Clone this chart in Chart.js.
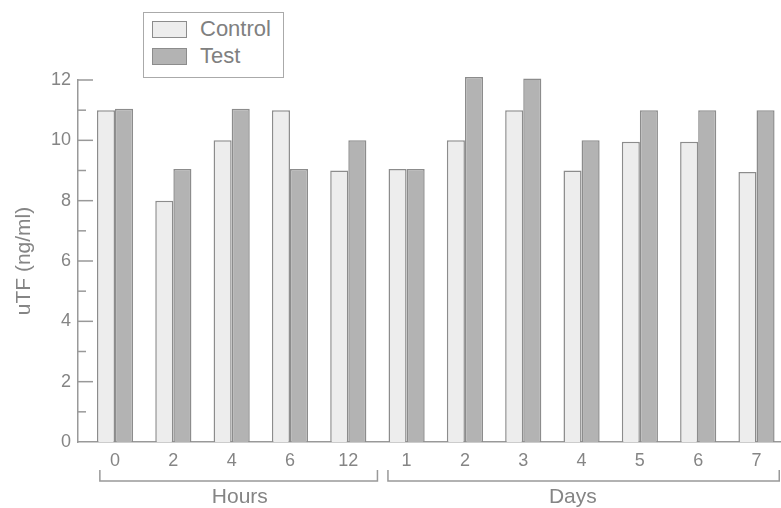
<!DOCTYPE html>
<html>
<head>
<meta charset="utf-8">
<script src="https://cdn.jsdelivr.net/npm/chart.js@4.4.1/dist/chart.umd.min.js"></script>
<style>
  body { margin: 0; background: #fff; }
  #wrap { position: relative; width: 781px; height: 508px; overflow: hidden; }
  #legend {
    position: absolute; left: 143px; top: 12px; width: 139px; height: 64px;
    border: 1px solid #aaa; background: #fff;
    font: 22px "Liberation Sans", Arial, sans-serif; color: #808080;
  }
  .item { position: absolute; left: 8px; height: 17px; }
  .sw { position: absolute; left: 0; top: 0; width: 33px; height: 15px; border: 1px solid #8c8c8c; }
  .lab { position: absolute; left: 48px; top: -4px; line-height: 24px; white-space: nowrap; }
</style>
</head>
<body>
<div id="wrap">
  <canvas id="chart" width="781" height="508"></canvas>
  <div id="legend"></div>
</div>
<script>
// time points along the x axis
const xLabels = ['0', '2', '4', '6', '12', '1', '2', '3', '4', '5', '6', '7'];
const controlValues = [11, 8, 10, 11, 9, 9.05, 10, 11, 9, 9.95, 9.95, 8.95];
const testValues = [11.05, 9.05, 11.05, 9.05, 10, 9.05, 12.1, 12.05, 10, 11, 11, 11];

// bracket groups under the axis (in x value units)
const groupNames = ['Hours', 'Days'];
const groupStart = [-0.26, 4.68];
const groupEnd = [4.5, 11.39];
const groupLabelAt = [2.14, 7.85];

const controlFill = '#ededed';
const testFill = '#b3b3b3';
const edge = '#8c8c8c';
const axisColor = '#999';
const textColor = '#858585';

Chart.defaults.font.family = '"Liberation Sans", Arial, sans-serif';

// legend in a box, top left
const legend = document.getElementById('legend');
[['Control', controlFill, 8], ['Test', testFill, 35]].forEach(([name, fill, top]) => {
  const item = document.createElement('div');
  item.className = 'item';
  item.style.top = top + 'px';
  item.innerHTML = `<div class="sw" style="background:${fill}"></div><div class="lab">${name}</div>`;
  legend.appendChild(item);
});

// y ticks point inward, long on even values, short on odd ones
const innerTicks = {
  id: 'innerTicks',
  afterDraw(chart) {
    const y = chart.scales.y;
    const c = chart.ctx;
    c.save();
    c.strokeStyle = axisColor;
    c.lineWidth = 1.5;
    y.ticks.forEach(t => {
      if (t.value === 0) return;
      const py = y.getPixelForValue(t.value);
      const len = t.value % 2 === 0 ? 15 : 8;
      c.beginPath();
      c.moveTo(chart.chartArea.left, py);
      c.lineTo(chart.chartArea.left + len, py);
      c.stroke();
    });
    c.restore();
  }
};

// Hours / Days brackets below the tick labels
const brackets = {
  id: 'brackets',
  afterDraw(chart) {
    const x = chart.scales.x;
    const c = chart.ctx;
    const base = chart.chartArea.bottom;
    c.save();
    c.strokeStyle = axisColor;
    c.lineWidth = 1.5;
    c.fillStyle = textColor;
    c.font = '21px "Liberation Sans", Arial, sans-serif';
    c.textAlign = 'center';
    c.textBaseline = 'middle';
    groupNames.forEach((name, i) => {
      const a = x.getPixelForValue(groupStart[i]);
      const b = x.getPixelForValue(groupEnd[i]);
      c.beginPath();
      c.moveTo(a, base + 28);
      c.lineTo(a, base + 39);
      c.lineTo(b, base + 39);
      c.lineTo(b, base + 28);
      c.stroke();
      c.fillText(name, x.getPixelForValue(groupLabelAt[i]), base + 55);
    });
    c.restore();
  }
};

const ctx = document.getElementById('chart').getContext('2d');
new Chart(ctx, {
  type: 'bar',
  data: {
    datasets: [
      {
        label: 'Control',
        data: controlValues.map((v, i) => ({ x: i, y: v })),
        backgroundColor: controlFill,
        borderColor: edge,
        borderWidth: 1.5
      },
      {
        label: 'Test',
        data: testValues.map((v, i) => ({ x: i, y: v })),
        backgroundColor: testFill,
        borderColor: edge,
        borderWidth: 1.5,
        clip: false
      }
    ]
  },
  options: {
    responsive: false,
    animation: false,
    layout: { padding: { top: 80, left: 0, right: 0, bottom: 0 } },
    datasets: { bar: { categoryPercentage: 0.62, barPercentage: 1 } },
    plugins: { legend: { display: false }, tooltip: { enabled: false } },
    scales: {
      x: {
        type: 'linear',
        offset: false,
        min: -0.635,
        max: 11.42,
        grid: { display: false, drawTicks: false },
        border: { display: true, color: axisColor, width: 1.5 },
        ticks: {
          stepSize: 1,
          includeBounds: false,
          autoSkip: false,
          maxRotation: 0,
          padding: 8,
          color: textColor,
          font: { size: 18 },
          callback: v => (Number.isInteger(v) ? xLabels[v] : '')
        },
        afterFit: s => { s.height = 66; }
      },
      y: {
        min: 0,
        max: 12,
        grid: { display: false, drawTicks: false },
        border: { display: true, color: axisColor, width: 1.5 },
        ticks: {
          stepSize: 1,
          autoSkip: false,
          padding: 7,
          color: textColor,
          font: { size: 18 },
          callback: v => (v % 2 === 0 ? v : '')
        },
        title: {
          display: true,
          text: 'uTF (ng/ml)',
          color: textColor,
          font: { size: 21 },
          padding: { top: 12, bottom: 0 }
        },
        afterFit: s => { s.width = 78; }
      }
    }
  },
  plugins: [innerTicks, brackets]
});
</script>
</body>
</html>
